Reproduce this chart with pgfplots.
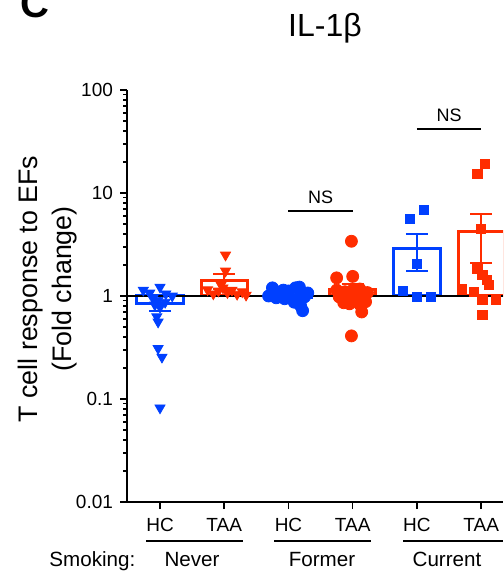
\documentclass[border=0pt]{standalone}
\usepackage{fontspec}
\setmainfont{Liberation Sans}
\usepackage{pgfplots}
\pgfplotsset{compat=1.18}

\definecolor{hcblue}{RGB}{0,64,255}
\definecolor{taared}{RGB}{255,45,0}

\begin{document}
\begin{tikzpicture}
\begin{scope}
\clip (0,0) rectangle (251.5pt,285.5pt);
\begin{axis}[
  at={(63.5pt,34.5pt)}, anchor=south west,
  scale only axis, width=188pt, height=206pt,
  ymode=log, log origin=0,
  xmin=-0.514, xmax=5.34, ymin=0.01, ymax=100,
  axis x line=bottom, axis y line=left,
  axis line style={-, line width=1pt},
  xtick={0,1,2,3,4,5}, xticklabels={HC,TAA,HC,TAA,HC,TAA},
  ytick={0.01,0.1,1,10,100}, yticklabels={0.01,0.1,1,10,100},
  minor ytick={0.02,0.03,0.04,0.05,0.06,0.07,0.08,0.09,
               0.2,0.3,0.4,0.5,0.6,0.7,0.8,0.9,
               2,3,4,5,6,7,8,9,20,30,40,50,60,70,80,90},
  tick align=outside, major tick length=3.5pt, minor tick length=2pt,
  tick style={black, line width=0.75pt},
  ticklabel style={font=\fontsize{9.5}{11}\selectfont},
  xticklabel style={yshift=-1pt},
]
% bars (mean) with SEM
\addplot[ybar, bar width=0.72, bar shift=0pt, draw=hcblue, fill=none, line width=1.5pt,
  error bars/.cd, y dir=both, y explicit,
  error bar style={line width=1pt, hcblue},
  error mark options={rotate=90, mark size=5.5pt, line width=1pt, hcblue}]
  coordinates {(0,0.855) +- (0,0.14) (2,0.97) +- (0,0.05) (4,2.86) +- (0,1.1)};
\addplot[ybar, bar width=0.72, bar shift=0pt, draw=taared, fill=none, line width=1.5pt,
  error bars/.cd, y dir=both, y explicit,
  error bar style={line width=1pt, taared},
  error mark options={rotate=90, mark size=5.5pt, line width=1pt, taared}]
  coordinates {(1,1.40) +- (0,0.23) (3,1.15) +- (0,0.17) (5,4.2) +- (0,2.1)};

% never smokers
\addplot[only marks, mark=triangle*, mark size=2.9pt, hcblue,
  mark options={rotate=180, fill=hcblue, draw=hcblue}] coordinates {
  (-0.26,1.14) (0.0,1.22) (-0.16,1.07) (0.09,1.05) (0.19,1.0) (-0.11,0.95)
  (-0.03,0.91) (0.08,0.87) (-0.08,0.82) (0.0,0.78) (-0.05,0.63) (-0.03,0.56)
  (-0.03,0.31) (0.03,0.255) (0.0,0.082)};
\addplot[only marks, mark=triangle*, mark size=2.9pt, taared,
  mark options={rotate=180, fill=taared, draw=taared}] coordinates {
  (1.02,2.5) (1.02,1.75) (0.74,1.15) (0.83,1.05) (0.91,1.12) (0.98,1.2)
  (1.05,1.08) (1.12,1.14) (1.2,1.04) (1.28,1.10) (1.34,1.02) (0.95,1.28)};

% former smokers
\addplot[only marks, mark=*, mark size=3pt, hcblue,
  mark options={fill=hcblue, draw=hcblue}] coordinates {
  (1.75,1.2) (1.84,1.09) (1.92,1.14) (2.0,1.12) (2.11,1.2) (2.17,1.22)
  (2.19,1.0) (2.25,0.98) (2.16,0.91) (2.09,0.87) (2.19,0.80) (2.22,0.72)
  (1.81,0.96) (1.94,0.94) (2.02,0.96) (1.69,1.0) (2.3,1.07)};
\addplot[only marks, mark=*, mark size=3pt, taared,
  mark options={fill=taared, draw=taared}] coordinates {
  (2.98,3.4) (2.98,0.41) (3.0,1.55) (2.75,1.5) (2.75,1.14) (2.88,1.1)
  (3.0,1.14) (3.11,1.17) (3.23,1.08) (2.79,0.98) (2.92,0.92) (3.03,0.94)
  (3.14,0.92) (3.2,0.88) (2.86,0.86) (2.95,0.84) (3.11,0.83) (3.14,0.70)};

% current smokers
\addplot[only marks, mark=square*, mark size=2.3pt, hcblue,
  mark options={fill=hcblue, draw=hcblue}] coordinates {
  (3.89,5.6) (4.11,6.8) (4.0,2.05) (3.78,1.12) (4.0,0.98) (4.22,0.98)};
\addplot[only marks, mark=square*, mark size=2.3pt, taared,
  mark options={fill=taared, draw=taared}] coordinates {
  (5.06,19) (4.94,15.3) (5.0,4.5) (4.94,1.83) (5.02,1.6) (5.09,1.43)
  (5.12,1.28) (4.7,1.17) (4.89,1.1) (5.02,0.91) (5.23,0.91) (5.02,0.65)};

% reference line at 1
\addplot[black, line width=1pt] coordinates {(-0.514,1) (5.34,1)};

% significance brackets
\addplot[black, line width=1pt] coordinates {(2,6.68) (3,6.68)};
\addplot[black, line width=1pt] coordinates {(4,41.8) (5,41.8)};
\node[font=\fontsize{9}{11}\selectfont] at (axis cs:2.5,9.15) {NS};
\node[font=\fontsize{9}{11}\selectfont] at (axis cs:4.5,57.2) {NS};
\end{axis}

\begin{scope}[x=0.5pt, y=-0.5pt, yshift=285.5pt]
  \node[anchor=base west, inner sep=0pt, font=\fontsize{20}{24}\selectfont\bfseries] at (20,18) {C};
  \node[anchor=base, inner sep=0pt, font=\fontsize{16}{19}\selectfont] at (325,37) {IL-1β};
  \node[anchor=base, rotate=90, inner sep=0pt, font=\fontsize{13.4}{16}\selectfont] at (37,289) {T cell response to EFs};
  \node[anchor=base, rotate=90, inner sep=0pt, font=\fontsize{13.4}{16}\selectfont] at (71,289) {(Fold change)};
  \draw[line width=1pt] (146,541) -- (243,541);
  \draw[line width=1pt] (274,541) -- (371,541);
  \draw[line width=1pt] (403,541) -- (503,541);
  \node[anchor=base west, inner sep=0pt, font=\fontsize{10.3}{12}\selectfont] at (49,567) {Smoking:};
  \node[anchor=base, inner sep=0pt, font=\fontsize{10.3}{12}\selectfont] at (192,567) {Never};
  \node[anchor=base, inner sep=0pt, font=\fontsize{10.3}{12}\selectfont] at (322,567) {Former};
  \node[anchor=base, inner sep=0pt, font=\fontsize{10.3}{12}\selectfont] at (447,567) {Current};
\end{scope}
\end{scope}
\pgfresetboundingbox
\path[use as bounding box] (0,0) rectangle (251.5pt,285.5pt);
\end{tikzpicture}
\end{document}
